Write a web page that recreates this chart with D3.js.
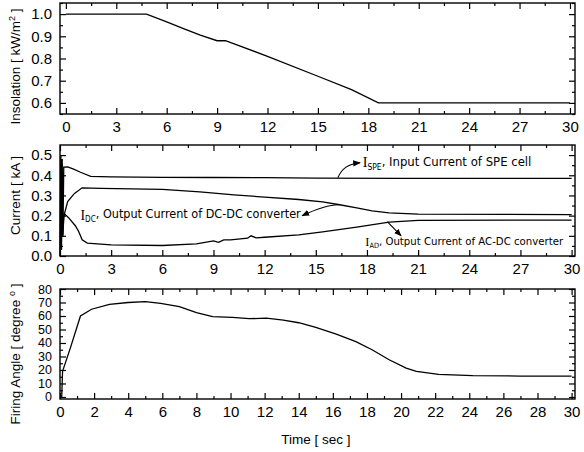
<!DOCTYPE html>
<html>
<head>
<meta charset="utf-8">
<script src="https://cdn.jsdelivr.net/npm/d3@7"></script>
<style>
  body { margin: 0; background: #fff; }
  svg { display: block; }
  .tick text { font-family: "Liberation Sans", Arial, sans-serif; font-size: 15px; fill: #000; }
  .tick line { stroke: #000; stroke-width: 1.2; }
  .ytitle { font-family: "Liberation Sans", Arial, sans-serif; font-size: 13.5px; }
  .note { font-family: "DejaVu Sans Condensed", "DejaVu Sans", sans-serif; font-size: 12px; }
</style>
</head>
<body>
<svg id="chart" width="584" height="452"></svg>
<script>
// insolation profile
const insolTime = [0, 4.8, 6, 7, 8, 9, 9.5, 12, 15, 17, 18.6, 30];
const insolValue = [1.0, 1.0, 0.965, 0.935, 0.905, 0.88, 0.88, 0.81, 0.72, 0.66, 0.6, 0.6];

// currents [kA]
const speTime = [0, 0.05, 0.09, 0.13, 0.17, 0.22, 0.45, 0.8, 1.2, 1.8, 3, 6, 9, 12, 15, 20, 30];
const speValue = [0, 0.5, 0.03, 0.48, 0.1, 0.44, 0.442, 0.43, 0.415, 0.395, 0.392, 0.39, 0.389, 0.388, 0.386, 0.385, 0.385];

const dcTime = [0.15, 0.2, 0.45, 0.85, 1.3, 2.4, 6, 8.2, 10.2, 12, 14, 15.4, 16.4, 17.4, 18.3, 19.3, 21, 30];
const dcValue = [0.1, 0.19, 0.27, 0.31, 0.338, 0.335, 0.33, 0.318, 0.303, 0.292, 0.28, 0.268, 0.254, 0.238, 0.224, 0.214, 0.207, 0.205];

const adTime = [0.15, 0.25, 0.5, 0.9, 1.1, 1.3, 1.6, 3, 6, 8, 9, 9.3, 9.6, 10, 11, 11.2, 11.5, 12, 14, 15.4, 17.4, 19.3, 21, 30];
const adValue = [0.1, 0.21, 0.19, 0.15, 0.12, 0.08, 0.064, 0.055, 0.052, 0.06, 0.075, 0.068, 0.08, 0.08, 0.088, 0.1, 0.09, 0.093, 0.105, 0.12, 0.143, 0.168, 0.177, 0.178];

// firing angle [deg]
const fireTime = [0.1, 0.15, 0.6, 1.2, 1.85, 2.9, 4, 5, 5.9, 7, 8, 8.95, 10.1, 11.1, 12.1, 13.1, 14, 15, 16.2, 17.35, 18.3, 19.3, 20.3, 20.9, 22.2, 24.2, 27, 30];
const fireValue = [0, 19, 36, 60, 65, 68.6, 70, 70.7, 69.4, 67, 62.5, 59.5, 59, 58, 58.4, 57, 55, 51.5, 46.5, 41, 35, 27.6, 21.4, 19, 16.8, 15.8, 15.5, 15.5];

const xTicksA = [0, 3, 6, 9, 12, 15, 18, 21, 24, 27, 30];
const xTicksB = [0, 2, 4, 6, 8, 10, 12, 14, 16, 18, 20, 22, 24, 26, 28, 30];

const svg = d3.select('#chart');
const left = 60, right = 575;

function toPoints(t, v) { return t.map((d, i) => [d, v[i]]); }

function panel(opt) {
  const x = d3.scaleLinear().domain(opt.xDomain).range([left, right]);
  const y = d3.scaleLinear().domain(opt.yDomain).range([opt.bottom, opt.top]);
  const g = svg.append('g');

  const addAxis = (axis, transform, label) => {
    const a = g.append('g').attr('transform', transform).call(axis);
    a.select('.domain').remove();
    if (!label) a.selectAll('text').remove();
    return a;
  };

  // major + minor, all four sides, ticks pointing in
  addAxis(d3.axisBottom(x).tickValues(opt.xTicks).tickSize(-6).tickPadding(7).tickFormat(d3.format('d')), `translate(0,${opt.bottom})`, true);
  addAxis(d3.axisBottom(x).tickValues(opt.xMinor).tickSize(-3).tickFormat(''), `translate(0,${opt.bottom})`);
  addAxis(d3.axisTop(x).tickValues(opt.xTicks).tickSize(-6), `translate(0,${opt.top})`);
  addAxis(d3.axisTop(x).tickValues(opt.xMinor).tickSize(-3), `translate(0,${opt.top})`);
  const ya = addAxis(d3.axisLeft(y).tickValues(opt.yTicks).tickSize(-6).tickPadding(8).tickFormat(opt.yFormat), `translate(${left},0)`, true);
  if (opt.yFont) ya.selectAll('text').style('font-size', opt.yFont + 'px');
  addAxis(d3.axisLeft(y).tickValues(opt.yMinor).tickSize(-3).tickFormat(''), `translate(${left},0)`);
  addAxis(d3.axisRight(y).tickValues(opt.yTicks).tickSize(-6), `translate(${right},0)`);
  addAxis(d3.axisRight(y).tickValues(opt.yMinor).tickSize(-3), `translate(${right},0)`);

  g.append('rect')
    .attr('x', left).attr('y', opt.top)
    .attr('width', right - left).attr('height', opt.bottom - opt.top)
    .attr('fill', 'none').attr('stroke', '#000').attr('stroke-width', 1.4);

  const line = d3.line().x(d => x(d[0])).y(d => y(d[1]));
  opt.series.forEach(s => {
    g.append('path').datum(s).attr('d', line)
      .attr('fill', 'none').attr('stroke', '#000').attr('stroke-width', 1.3);
  });

  g.append('text').attr('class', 'ytitle')
    .attr('transform', `translate(20,${(opt.top + opt.bottom) / 2 + opt.titleShift}) rotate(-90)`)
    .attr('text-anchor', 'middle')
    .html(opt.title);
  return { x, y, g };
}

const range = (a, b, s) => d3.range(a, b + s / 2, s);

panel({
  top: 3, bottom: 114,
  xDomain: [-0.35, 30.3], yDomain: [0.55, 1.05],
  xTicks: xTicksA, xMinor: range(1.5, 28.5, 3),
  yTicks: [0.6, 0.7, 0.8, 0.9, 1.0], yMinor: [0.55, 0.65, 0.75, 0.85, 0.95, 1.05],
  yFormat: d3.format('.1f'),
  series: [toPoints(insolTime, insolValue)],
  title: 'Insolation [ kW/m<tspan dy="-5" font-size="9">2</tspan><tspan dy="5"> ]</tspan>',
  titleShift: 8
});

const mid = panel({
  top: 145, bottom: 256,
  xDomain: [0, 30.2], yDomain: [0, 0.55],
  xTicks: xTicksA, xMinor: range(1.5, 28.5, 3),
  yTicks: [0, 0.1, 0.2, 0.3, 0.4, 0.5], yMinor: [0.05, 0.15, 0.25, 0.35, 0.45],
  yFormat: d3.format('.1f'),
  series: [toPoints(speTime, speValue), toPoints(dcTime, dcValue), toPoints(adTime, adValue)],
  title: 'Current [ kA ]',
  titleShift: -5
});

panel({
  top: 289, bottom: 399,
  xDomain: [0, 30.2], yDomain: [-1.5, 80],
  xTicks: xTicksB, xMinor: range(1, 29, 2),
  yTicks: d3.range(0, 81, 10), yMinor: d3.range(5, 80, 10),
  yFormat: d3.format('d'), yFont: 12.5,
  series: [toPoints(fireTime, fireValue)],
  title: 'Firing Angle [ degree <tspan dy="-5" font-size="9">o</tspan><tspan dy="5"> ]</tspan>',
  titleShift: 10
});

// annotations in the current panel
const defs = svg.append('defs');
defs.append('marker').attr('id', 'arr').attr('viewBox', '0 0 10 10')
  .attr('refX', 9).attr('refY', 5).attr('markerWidth', 7).attr('markerHeight', 7)
  .attr('orient', 'auto-start-reverse')
  .append('path').attr('d', 'M0,1 L10,5 L0,9 z').attr('fill', '#000');

const mx = mid.x, my = mid.y;
const notes = [
  { sub: 'SPE', text: ', Input Current of SPE cell', at: [17.75, 0.46], size: 13, from: [16.3, 0.388], to: [17.6, 0.462], bend: -6 },
  { sub: 'DC', text: ', Output Current of DC-DC converter', at: [1.2, 0.2], size: 12.5, from: [16.4, 0.254], to: [14.2, 0.2], bend: 6 },
  { sub: 'AD', text: ', Output Current of AC-DC converter', at: [17.9, 0.068], size: 11.3, from: [19.2, 0.17], to: [20.0, 0.1], bend: -5 }
];

notes.forEach(n => {
  const t = svg.append('text').attr('class', 'note')
    .attr('x', mx(n.at[0])).attr('y', my(n.at[1]) + 4)
    .style('font-size', n.size + 'px');
  t.append('tspan').attr('font-family', '"Liberation Serif", serif').attr('font-size', '1.1em').text('I');
  t.append('tspan').attr('font-size', '0.65em').attr('dy', '0.3em').text(n.sub);
  t.append('tspan').attr('dy', '-0.3em').text(n.text);

  const x0 = mx(n.from[0]), y0 = my(n.from[1]), x1 = mx(n.to[0]), y1 = my(n.to[1]);
  const cx = (x0 + x1) / 2 + n.bend, cy = (y0 + y1) / 2 - Math.abs(n.bend);
  svg.append('path')
    .attr('d', `M${x0},${y0} Q${cx},${cy} ${x1},${y1}`)
    .attr('fill', 'none').attr('stroke', '#000').attr('stroke-width', 1.1)
    .attr('marker-end', 'url(#arr)');
});

svg.append('text').attr('class', 'ytitle')
  .attr('x', 316).attr('y', 444).attr('text-anchor', 'middle')
  .text('Time [ sec ]');
</script>
</body>
</html>
